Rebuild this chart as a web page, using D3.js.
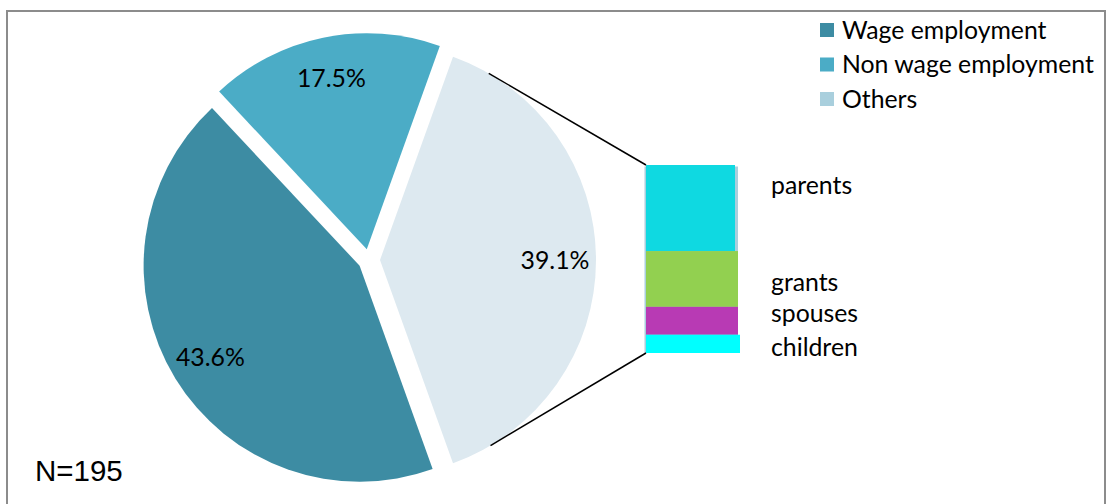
<!DOCTYPE html>
<html>
<head>
<meta charset="utf-8">
<script src="https://cdn.jsdelivr.net/npm/d3@7"></script>
<style>
  html, body { margin: 0; padding: 0; background: #fff; }
  svg { display: block; font-family: Lato, "Noto Sans", sans-serif; }
</style>
</head>
<body>
<svg id="chart" width="1108" height="504"></svg>
<script>
// Main split of income sources (percent of respondents)
const categories = ["Wage employment", "Non wage employment", "Others"];
const shares = [43.6, 17.5, 39.1];

// Breakdown of the "Others" share
const otherSources = ["parents", "grants", "spouses", "children"];
const otherShares = [17.9, 11.6, 5.8, 3.8];

const sampleSize = 195;

const W = 1108, H = 504;
const fontSize = 24.8;
const svg = d3.select("#chart");

// frame
svg.append("rect")
  .attr("x", 7).attr("y", 11)
  .attr("width", 1098).attr("height", H)
  .attr("fill", "none")
  .attr("stroke", "#8c8c8c")
  .attr("stroke-width", 2);

const sliceFill = d3.scaleOrdinal().domain(categories).range(["#3d8ca3", "#4bacc6", "#dde9f0"]);
const keyFill = d3.scaleOrdinal().domain(categories).range(["#3d8ca3", "#4bacc6", "#a9cfdd"]);
const sourceFill = d3.scaleOrdinal().domain(otherSources).range(["#0fd9e1", "#92d050", "#b83ab4", "#00ffff"]);

// ---- pie ----
const cx = 369, cy = 260, R = 216, explode = 11;
const total = d3.sum(shares);
const otherIdx = categories.indexOf("Others");
const before = d3.sum(shares.slice(0, otherIdx));
const otherSpan = 2 * Math.PI * shares[otherIdx] / total;
// rotate so the "Others" wedge points at the breakdown bar (3 o'clock)
const startAngle = Math.PI / 2 - 2 * Math.PI * before / total - otherSpan / 2;

const pie = d3.pie().sort(null).value(d => d.value)
  .startAngle(startAngle).endAngle(startAngle + 2 * Math.PI);
const arcs = pie(categories.map((c, i) => ({ name: c, value: shares[i] })));

const arc = d3.arc().innerRadius(0).outerRadius(R);
const labelArc = d3.arc().innerRadius(R * 0.81).outerRadius(R * 0.81);

const offset = d => {
  const mid = (d.startAngle + d.endAngle) / 2;
  return [cx + Math.sin(mid) * explode, cy - Math.cos(mid) * explode];
};

const slices = svg.append("g").selectAll("g")
  .data(arcs).join("g")
  .attr("transform", d => `translate(${offset(d)})`);

slices.append("path")
  .attr("d", arc)
  .attr("fill", d => sliceFill(d.data.name));

slices.append("text")
  .attr("transform", d => `translate(${labelArc.centroid(d)})`)
  .attr("text-anchor", "middle")
  .attr("dy", "0.35em")
  .attr("font-size", fontSize)
  .attr("fill", "#000")
  .text(d => d.data.value.toFixed(1) + "%");

// ---- breakdown bar ----
const barX = 646, barW = 92, barTop = 165, barBottom = 353;
const yBar = d3.scaleLinear().domain([0, d3.sum(otherShares)]).range([barTop, barBottom]);

let acc = 0;
const segments = otherSources.map((s, i) => {
  const seg = { name: s, value: otherShares[i], y0: acc, y1: acc + otherShares[i] };
  acc += otherShares[i];
  return seg;
});

svg.append("rect")
  .attr("x", barX - 1.5).attr("y", yBar(0) + 1.5)
  .attr("width", barW + 1.5).attr("height", yBar(acc) - yBar(0) - 1.5)
  .attr("fill", keyFill("Others"));

svg.append("g").selectAll("rect")
  .data(segments).join("rect")
  .attr("x", barX)
  .attr("y", d => yBar(d.y0))
  .attr("width", d => d.name === "parents" ? barW - 3 : (d.name === "children" ? barW + 2 : barW))
  .attr("height", d => yBar(d.y1) - yBar(d.y0))
  .attr("fill", d => sourceFill(d.name));

// connector lines: tangents from the "Others" wedge to the bar corners
const otherArc = arcs[otherIdx];
const [ox, oy] = offset(otherArc);
function tangentPoint(px, py, upper) {
  const dx = px - ox, dy = py - oy;
  const d = Math.hypot(dx, dy);
  const base = Math.atan2(dy, dx);
  const a = Math.acos(R / d);
  const t = upper ? base - a : base + a;
  return [ox + R * Math.cos(t), oy + R * Math.sin(t)];
}
const corners = [[barX, yBar(0), true], [barX, yBar(acc), false]];
svg.append("g").selectAll("line")
  .data(corners).join("line")
  .attr("x1", d => tangentPoint(d[0], d[1], d[2])[0])
  .attr("y1", d => tangentPoint(d[0], d[1], d[2])[1])
  .attr("x2", d => d[0])
  .attr("y2", d => d[1])
  .attr("stroke", "#000")
  .attr("stroke-width", 1.5);

// category labels beside the bar, spread so they do not collide
const gap = 32;
const labelPos = segments.map(s => (yBar(s.y0) + yBar(s.y1)) / 2);
for (let i = labelPos.length - 2; i >= 0; i--) {
  labelPos[i] = Math.min(labelPos[i], labelPos[i + 1] - gap);
}
const labelShift = { parents: -23, grants: 3, spouses: 1.5, children: 3 };
svg.append("g").selectAll("text")
  .data(segments).join("text")
  .attr("x", 771)
  .attr("y", (d, i) => labelPos[i] + (labelShift[d.name] || 0))
  .attr("dy", "0.35em")
  .attr("font-size", fontSize)
  .attr("fill", "#000")
  .text(d => d.name);

// ---- legend ----
const legend = svg.append("g").selectAll("g")
  .data(categories).join("g")
  .attr("transform", (d, i) => `translate(820, ${30 + i * 34.5})`);
legend.append("rect")
  .attr("x", 0).attr("y", -7)
  .attr("width", 14).attr("height", 14)
  .attr("fill", d => keyFill(d));
legend.append("text")
  .attr("x", 22).attr("y", 0)
  .attr("dy", "0.35em")
  .attr("font-size", fontSize)
  .attr("fill", "#000")
  .text(d => d);

// sample size note
svg.append("text")
  .attr("x", 35).attr("y", 481)
  .attr("font-family", "'Liberation Sans', Arial, sans-serif")
  .attr("font-size", 29.5)
  .attr("fill", "#000")
  .text("N=" + sampleSize);
</script>
</body>
</html>
